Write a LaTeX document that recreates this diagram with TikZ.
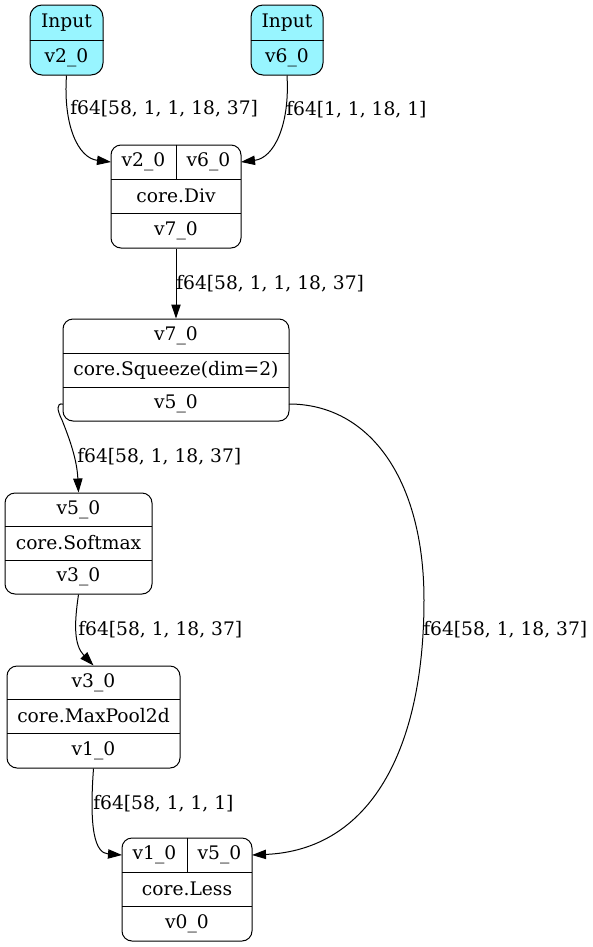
\documentclass[tikz,border=0pt]{standalone}
\usepackage{fontspec}
\setmainfont{DejaVu Serif}
\usetikzlibrary{arrows.meta}
\definecolor{inputc}{HTML}{98F5FF}
\begin{document}
\begin{tikzpicture}[x=0.75pt,y=-0.75pt,
  box/.style={draw, rounded corners=7.5pt, inner sep=0, line width=0.75pt},
  inbox/.style={box, fill=inputc, rounded corners=9pt},
  txt/.style={font=\fontsize{14}{16}\selectfont, inner sep=0},
  lbl/.style={txt, anchor=west},
  sep/.style={line width=0.75pt},
  edge/.style={draw, line width=0.75pt, -{Triangle[length=10.5pt,width=7pt]}}]
\useasboundingbox (0,0) rectangle (593,947);

% Input 1
\node[inbox, minimum width=54.75pt, minimum height=52.5pt] (in1) at (66.5,40) {};
\draw[sep] (in1.west) -- (in1.east);
\node[txt] (in1a) at (66.5,22.5) {Input};
\node[txt] (in1b) at (66.5,57.5) {v2\_0};

% Input 2
\node[inbox, minimum width=54pt, minimum height=52.5pt] (in2) at (287,40) {};
\draw[sep] (in2.west) -- (in2.east);
\node[txt] (in2a) at (287,22.5) {Input};
\node[txt] (in2b) at (287,57.5) {v6\_0};

% Div
\node[box, minimum width=97.5pt, minimum height=77.25pt] (div) at (176,196.5) {};
\draw[sep] (111,179) -- (241,179);
\draw[sep] (111,213) -- (241,213);
\draw[sep] (div.north) -- (176,179);
\node[txt] (diva) at (143.5,162) {v2\_0};
\node[txt] (divb) at (208.5,162) {v6\_0};
\node[txt] (divc) at (176,196) {core.Div};
\node[txt] (divd) at (176,230.5) {v7\_0};
\coordinate (divL) at (111,162);
\coordinate (divR) at (241,162);

% Squeeze
\node[box, minimum width=169.5pt, minimum height=76.5pt] (sq) at (176,370) {};
\draw[sep] (63,353) -- (289,353);
\draw[sep] (63,387) -- (289,387);
\node[txt] (sqa) at (176,336) {v7\_0};
\node[txt] (sqb) at (176,370) {core.Squeeze(dim=2)};
\node[txt] (sqc) at (176,404) {v5\_0};
\coordinate (sqL) at (63,404);
\coordinate (sqR) at (289,404);

% Softmax
\node[box, minimum width=110.25pt, minimum height=75.75pt] (sm) at (78.5,543.5) {};
\draw[sep] (5,526) -- (152,526);
\draw[sep] (5,560) -- (152,560);
\node[txt] (sma) at (78.5,509.5) {v5\_0};
\node[txt] (smb) at (78.5,543) {core.Softmax};
\node[txt] (smc) at (78.5,577) {v3\_0};

% MaxPool
\node[box, minimum width=129.75pt, minimum height=76.5pt] (mp) at (93.5,717) {};
\draw[sep] (7,699) -- (180,699);
\draw[sep] (7,733) -- (180,733);
\node[txt] (mpa) at (93.5,682.5) {v3\_0};
\node[txt] (mpb) at (93.5,716) {core.MaxPool2d};
\node[txt] (mpc) at (93.5,750.5) {v1\_0};

% Less
\node[box, minimum width=97.5pt, minimum height=77.25pt] (ls) at (187,889.5) {};
\draw[sep] (122,872) -- (252,872);
\draw[sep] (122,906) -- (252,906);
\draw[sep] (ls.north) -- (187,872);
\node[txt] (lsa) at (154.5,855) {v1\_0};
\node[txt] (lsb) at (219.5,855) {v5\_0};
\node[txt] (lsc) at (187,889) {core.Less};
\node[txt] (lsd) at (187,923.5) {v0\_0};
\coordinate (lsL) at (122,855);
\coordinate (lsR) at (252,855);

% Edges
\draw[edge] (in1.south) .. controls (63,125) and (78,158) .. (divL);
\draw[edge] (in2.south) .. controls (290,125) and (274,158) .. (divR);
\draw[edge] (div.south) -- (sq.north);
\draw[edge] (sqL) .. controls (56,403) and (57,410) .. (62,420) .. controls (70,440) and (77,460) .. (sm.north);
\draw[edge] (sm.south) .. controls (74,625) and (74,645) .. (mp.north);
\draw[edge] (mp.south) .. controls (89,830) and (95,853) .. (lsL);
\draw[edge] (sqR) .. controls (370,404) and (424,480) .. (424,600) .. controls (424,750) and (370,850) .. (lsR);

% Labels
\node[lbl] (l1) at (70,109) {f64[58, 1, 1, 18, 37]};
\node[lbl] (l2) at (286,110) {f64[1, 1, 18, 1]};
\node[lbl] (l3) at (176,284) {f64[58, 1, 1, 18, 37]};
\node[lbl] (l4) at (77,457) {f64[58, 1, 18, 37]};
\node[lbl] (l5) at (78,630) {f64[58, 1, 18, 37]};
\node[lbl] (l6) at (93,804) {f64[58, 1, 1, 1]};
\node[lbl] (l7) at (423,630) {f64[58, 1, 18, 37]};
\end{tikzpicture}
\end{document}
